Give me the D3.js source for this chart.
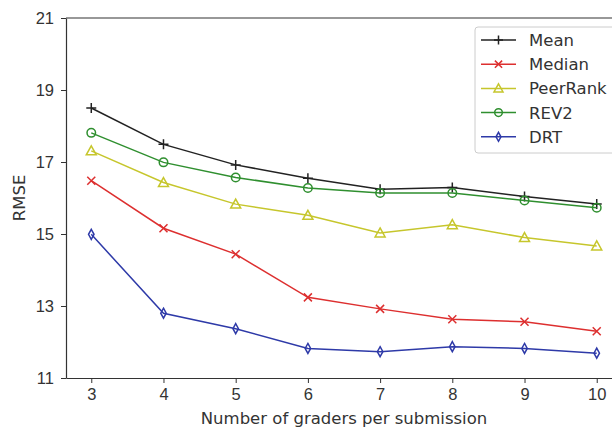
<!DOCTYPE html>
<html>
<head>
<meta charset="utf-8">
<script src="https://cdn.jsdelivr.net/npm/d3@7"></script>
<style>
  body { margin: 0; background: #fff; }
  svg { display: block; font-family: 'DejaVu Sans', sans-serif; }
  .axis path, .axis line { stroke: #333; }
  .axis text { fill: #333; font-size: 16.5px; }
</style>
</head>
<body>
<div id="chart"></div>
<script>
// data
const graders = [3, 4, 5, 6, 7, 8, 9, 10];
const meanVals = [18.50, 17.49, 16.92, 16.55, 16.24, 16.29, 16.04, 15.83];
const medianVals = [16.48, 15.16, 14.44, 13.24, 12.92, 12.63, 12.56, 12.30];
const peerRankVals = [17.31, 16.43, 15.83, 15.52, 15.03, 15.26, 14.90, 14.67];
const rev2Vals = [17.81, 16.99, 16.57, 16.28, 16.14, 16.14, 15.93, 15.73];
const drtVals = [14.99, 12.80, 12.37, 11.82, 11.73, 11.87, 11.82, 11.69];
const yTicks = [11, 13, 15, 17, 19, 21];

const series = [
  { name: 'Mean', values: meanVals, color: '#222222', marker: 'plus' },
  { name: 'Median', values: medianVals, color: '#dd2f2f', marker: 'x' },
  { name: 'PeerRank', values: peerRankVals, color: '#c6c62c', marker: 'tri' },
  { name: 'REV2', values: rev2Vals, color: '#2f8f2f', marker: 'circle' },
  { name: 'DRT', values: drtVals, color: '#2e3aa8', marker: 'diamond' }
];

const width = 612,
      height = 427,
      margins = { top: 18, right: -10, bottom: 49, left: 66 };

const xScale = d3.scaleLinear()
  .domain([2.65, 10.35])
  .range([margins.left, width - margins.right]);

const yScale = d3.scaleLinear()
  .domain([11, 21])
  .range([height - margins.bottom, margins.top]);

const $svg = d3.select('#chart').append('svg')
  .attr('width', width)
  .attr('height', height);

// top spine (right one falls outside the crop)
$svg.append('line')
  .attr('x1', margins.left).attr('x2', width)
  .attr('y1', yScale(21)).attr('y2', yScale(21))
  .attr('stroke', '#333').attr('stroke-width', 1.2);

const xAxis = d3.axisBottom(xScale)
  .tickValues(graders)
  .tickSize(5)
  .tickPadding(5)
  .tickSizeOuter(0);

const yAxis = d3.axisLeft(yScale)
  .tickValues(yTicks)
  .tickSize(5)
  .tickPadding(7)
  .tickSizeOuter(0);

$svg.append('g')
  .classed('x axis', true)
  .attr('transform', `translate(0, ${yScale(11)})`)
  .call(xAxis)
  .call(g => g.select('.domain').attr('stroke-width', 1.2));

$svg.append('g')
  .classed('y axis', true)
  .attr('transform', `translate(${margins.left}, 0)`)
  .call(yAxis)
  .call(g => g.select('.domain').attr('stroke-width', 1.2));

$svg.append('text')
  .attr('x', xScale(6.5))
  .attr('y', 424)
  .attr('text-anchor', 'middle')
  .attr('fill', '#333')
  .style('font-size', '16.5px')
  .text('Number of graders per submission');

$svg.append('text')
  .attr('transform', `translate(25, ${yScale(16)}) rotate(-90)`)
  .attr('text-anchor', 'middle')
  .attr('fill', '#333')
  .style('font-size', '16.5px')
  .text('RMSE');

function drawMarker(g, type, color, s) {
  if (type === 'plus') {
    g.append('path').attr('d', `M${-s},0H${s}M0,${-s}V${s}`)
      .attr('stroke', color).attr('stroke-width', 1.5).attr('fill', 'none');
  } else if (type === 'x') {
    const k = s * 0.8;
    g.append('path').attr('d', `M${-k},${-k}L${k},${k}M${-k},${k}L${k},${-k}`)
      .attr('stroke', color).attr('stroke-width', 1.5).attr('fill', 'none');
  } else if (type === 'tri') {
    g.append('path').attr('d', `M0,${-s}L${s},${s * 0.8}L${-s},${s * 0.8}Z`)
      .attr('stroke', color).attr('stroke-width', 1.5).attr('fill', 'none');
  } else if (type === 'circle') {
    g.append('circle').attr('r', s * 0.85)
      .attr('stroke', color).attr('stroke-width', 1.5).attr('fill', 'none');
  } else if (type === 'diamond') {
    g.append('path').attr('d', `M0,${-s}L${s * 0.55},0L0,${s}L${-s * 0.55},0Z`)
      .attr('stroke', color).attr('stroke-width', 1.5).attr('fill', 'none');
  }
}

const line = d3.line()
  .x((d, i) => xScale(graders[i]))
  .y(d => yScale(d));

series.forEach(s => {
  $svg.append('path')
    .datum(s.values)
    .attr('d', line)
    .attr('fill', 'none')
    .attr('stroke', s.color)
    .attr('stroke-width', 1.5);

  s.values.forEach((v, i) => {
    const g = $svg.append('g')
      .attr('transform', `translate(${xScale(graders[i])}, ${yScale(v)})`);
    drawMarker(g, s.marker, s.color, 5);
  });
});

// legend
const $legend = $svg.append('g')
  .attr('transform', 'translate(475, 27)');

$legend.append('rect')
  .attr('width', 150)
  .attr('height', 126)
  .attr('rx', 3)
  .attr('fill', '#fff')
  .attr('stroke', '#ccc');

series.forEach((s, i) => {
  const y = 13 + i * 24.2;
  $legend.append('line')
    .attr('x1', 6).attr('x2', 41)
    .attr('y1', y).attr('y2', y)
    .attr('stroke', s.color)
    .attr('stroke-width', 1.5);
  drawMarker($legend.append('g').attr('transform', `translate(23.5, ${y})`), s.marker, s.color, 4.5);
  $legend.append('text')
    .attr('x', 54)
    .attr('y', y + 6)
    .attr('fill', '#333')
    .style('font-size', '16.5px')
    .text(s.name);
});
</script>
</body>
</html>
